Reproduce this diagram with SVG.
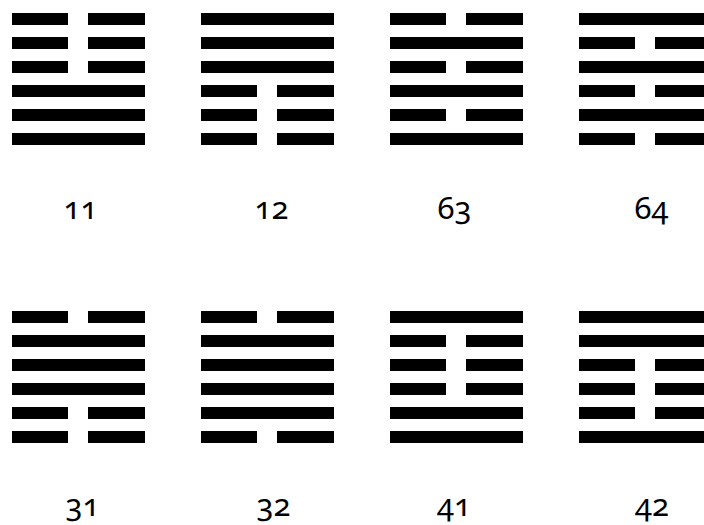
<svg xmlns="http://www.w3.org/2000/svg" xmlns:xlink="http://www.w3.org/1999/xlink" width="704" height="525" viewBox="0 0 704 525">
<style>
.bar{fill:#000}
.lbl{font-family:"Noto Sans","DejaVu Serif",sans-serif;font-size:31px;font-variant-numeric:oldstyle-nums;font-feature-settings:"onum";fill:#000;text-anchor:middle}
</style>
<defs>
<g id="yang"><rect class="bar" x="0" y="0" width="133" height="12"/></g>
<g id="yin"><rect class="bar" x="0" y="0" width="56" height="12"/><rect class="bar" x="76" y="0" width="57" height="12"/></g>
</defs>
<rect width="704" height="525" fill="#fff"/>
<g id="hex11">
<use xlink:href="#yin" x="12" y="13"/><use xlink:href="#yin" x="12" y="37"/><use xlink:href="#yin" x="12" y="61"/>
<use xlink:href="#yang" x="12" y="85"/><use xlink:href="#yang" x="12" y="109"/><use xlink:href="#yang" x="12" y="133"/>
<text class="lbl" x="80.5" y="219">11</text>
</g>
<g id="hex12">
<use xlink:href="#yang" x="201" y="13"/><use xlink:href="#yang" x="201" y="37"/><use xlink:href="#yang" x="201" y="61"/>
<use xlink:href="#yin" x="201" y="85"/><use xlink:href="#yin" x="201" y="109"/><use xlink:href="#yin" x="201" y="133"/>
<text class="lbl" x="271.5" y="219">12</text>
</g>
<g id="hex63">
<use xlink:href="#yin" x="390" y="13"/><use xlink:href="#yang" x="390" y="37"/><use xlink:href="#yin" x="390" y="61"/>
<use xlink:href="#yang" x="390" y="85"/><use xlink:href="#yin" x="390" y="109"/><use xlink:href="#yang" x="390" y="133"/>
<text class="lbl" x="454.5" y="219">63</text>
</g>
<g id="hex64">
<use xlink:href="#yang" x="579" y="13"/><use xlink:href="#yin" x="579" y="37"/><use xlink:href="#yang" x="579" y="61"/>
<use xlink:href="#yin" x="579" y="85"/><use xlink:href="#yang" x="579" y="109"/><use xlink:href="#yin" x="579" y="133"/>
<text class="lbl" x="651.5" y="219">64</text>
</g>
<g id="hex31">
<use xlink:href="#yin" x="12" y="311"/><use xlink:href="#yang" x="12" y="335"/><use xlink:href="#yang" x="12" y="359"/>
<use xlink:href="#yang" x="12" y="383"/><use xlink:href="#yin" x="12" y="407"/><use xlink:href="#yin" x="12" y="431"/>
<text class="lbl" x="82.5" y="516">31</text>
</g>
<g id="hex32">
<use xlink:href="#yin" x="201" y="311"/><use xlink:href="#yang" x="201" y="335"/><use xlink:href="#yang" x="201" y="359"/>
<use xlink:href="#yang" x="201" y="383"/><use xlink:href="#yang" x="201" y="407"/><use xlink:href="#yin" x="201" y="431"/>
<text class="lbl" x="273.5" y="516">32</text>
</g>
<g id="hex41">
<use xlink:href="#yang" x="390" y="311"/><use xlink:href="#yin" x="390" y="335"/><use xlink:href="#yin" x="390" y="359"/>
<use xlink:href="#yin" x="390" y="383"/><use xlink:href="#yang" x="390" y="407"/><use xlink:href="#yang" x="390" y="431"/>
<text class="lbl" x="454" y="516">41</text>
</g>
<g id="hex42">
<use xlink:href="#yang" x="579" y="311"/><use xlink:href="#yang" x="579" y="335"/><use xlink:href="#yin" x="579" y="359"/>
<use xlink:href="#yin" x="579" y="383"/><use xlink:href="#yin" x="579" y="407"/><use xlink:href="#yang" x="579" y="431"/>
<text class="lbl" x="652" y="516">42</text>
</g>
<g id="connectors"/>
</svg>
